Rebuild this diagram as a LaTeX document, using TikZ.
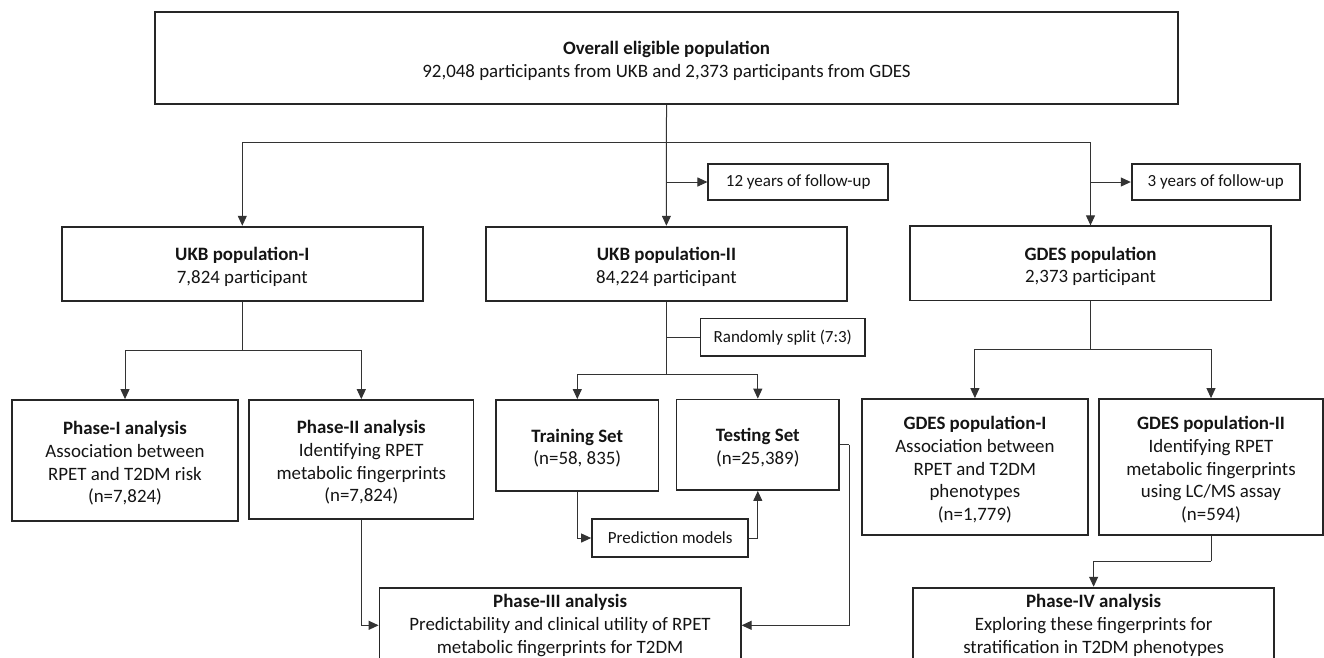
\documentclass[tikz,border=0pt]{standalone}
\usepackage{fontspec}
\setmainfont{Carlito}
\usetikzlibrary{arrows.meta}
\newcommand\upx{\rule{0pt}{19pt}}
\begin{document}
\begin{tikzpicture}[x=1pt,y=-1pt,
  box/.style={draw=black!85, line width=1.8pt, inner sep=0pt, align=center,
    text=black!92, font=\fontsize{18.9}{22.7}\selectfont},
  sidebox/.style={box, font=\fontsize{17}{20.5}\selectfont},
  conn/.style={draw=black!80, line width=1pt},
  arr/.style={conn, -{Triangle[length=10pt,width=9pt]}}]
\useasboundingbox (0,0) rectangle (1324,657);
\clip (0,0) rectangle (1324,657);
% nodes
\node[box, minimum width=1023.6pt, minimum height=91.7pt] (top) at (666.5,58.2)
  {\upx\textbf{Overall eligible population}\\92,048 participants from UKB and 2,373 participants from GDES};
\node[box, minimum width=361.3pt, minimum height=74.3pt] (ukb1) at (242.3,263.8)
  {\upx\textbf{UKB population-I}\\7,824 participant};
\node[box, minimum width=361.3pt, minimum height=74.3pt] (ukb2) at (666.4,263.8)
  {\upx\textbf{UKB population-II}\\84,224 participant};
\node[box, minimum width=361.6pt, minimum height=74.3pt] (gdes) at (1090.5,263.4)
  {\upx\textbf{GDES population}\\2,373 participant};
\node[sidebox, minimum width=179.7pt, minimum height=36.6pt] (fu12) at (798.2,182)
  {12 years of follow-up};
\node[sidebox, minimum width=168pt, minimum height=36.6pt] (fu3) at (1215.7,182)
  {3 years of follow-up};
\node[sidebox, minimum width=164.5pt, minimum height=37.5pt] (split) at (782.8,337.3)
  {Randomly split (7:3)};
\node[box, minimum width=226pt, minimum height=121pt] (ph1) at (125,460.5)
  {\upx\textbf{Phase-I analysis}\\Association between\\RPET and T2DM risk\\(n=7,824)};
\node[box, minimum width=224.2pt, minimum height=119.3pt] (ph2) at (361.3,459.7)
  {\upx\textbf{Phase-II analysis}\\Identifying RPET\\metabolic fingerprints\\(n=7,824)};
\node[box, minimum width=162.3pt, minimum height=90.7pt] (train) at (577.3,445.3)
  {\upx\textbf{Training Set}\\(n=58, 835)};
\node[box, minimum width=162.5pt, minimum height=90.5pt] (test) at (757.8,444.8)
  {\upx\textbf{Testing Set}\\(n=25,389)};
\node[sidebox, minimum width=156.3pt, minimum height=37.4pt] (pred) at (670.2,538)
  {Prediction models};
\node[box, minimum width=361.2pt, minimum height=75.3pt] (ph3) at (560.1,625.3)
  {\textbf{Phase-III analysis}\\Predictability and clinical utility of RPET\\metabolic fingerprints for T2DM};
\node[box, minimum width=225.7pt, minimum height=136pt] (gdes1) at (974.9,467)
  {\upx\textbf{GDES population-I}\\Association between\\RPET and T2DM\\phenotypes\\(n=1,779)};
\node[box, minimum width=223.5pt, minimum height=136pt] (gdes2) at (1211,467)
  {\upx\textbf{GDES population-II}\\Identifying RPET\\metabolic fingerprints\\using LC/MS assay\\(n=594)};
\node[box, minimum width=361.2pt, minimum height=75.3pt] (ph4) at (1093.6,625.3)
  {\textbf{Phase-IV analysis}\\Exploring these fingerprints for\\stratification in T2DM phenotypes};
% junction coordinates
\coordinate (bus) at (666.4,142.7);
\coordinate (b12) at (666.4,182);
\coordinate (b3) at (1090.5,182);
\coordinate (s1) at (242.3,350);
\coordinate (sp) at (666.4,337.3);
\coordinate (s2) at (666.4,374);
\coordinate (s3) at (1090.5,349);
\coordinate (s4) at (1211,561);
\coordinate (tc) at (849,444.8);
% connectors
\draw[arr] (top.south) -- (ukb2.north);
\draw[arr] (bus) -| (ukb1.north);
\draw[arr] (bus) -| (gdes.north);
\draw[arr] (b12) -- (fu12.west);
\draw[arr] (b3) -- (fu3.west);
\draw[conn] (ukb1.south) -- (s1);
\draw[arr] (s1) -| (ph1.north);
\draw[arr] (s1) -| (ph2.north);
\draw[conn] (ukb2.south) -- (s2);
\draw[conn] (sp) -- (split.west);
\draw[arr] (s2) -| (train.north);
\draw[arr] (s2) -| (test.north);
\draw[arr] (train.south) |- (pred.west);
\draw[arr] (pred.east) -| (test.south);
\draw[conn] (test.east) -- (tc);
\draw[arr] (tc) |- (ph3.east);
\draw[arr] (ph2.south) |- (ph3.west);
\draw[conn] (gdes.south) -- (s3);
\draw[arr] (s3) -| (gdes1.north);
\draw[arr] (s3) -| (gdes2.north);
\draw[conn] (gdes2.south) -- (s4);
\draw[arr] (s4) -| (ph4.north);
\end{tikzpicture}
\end{document}
